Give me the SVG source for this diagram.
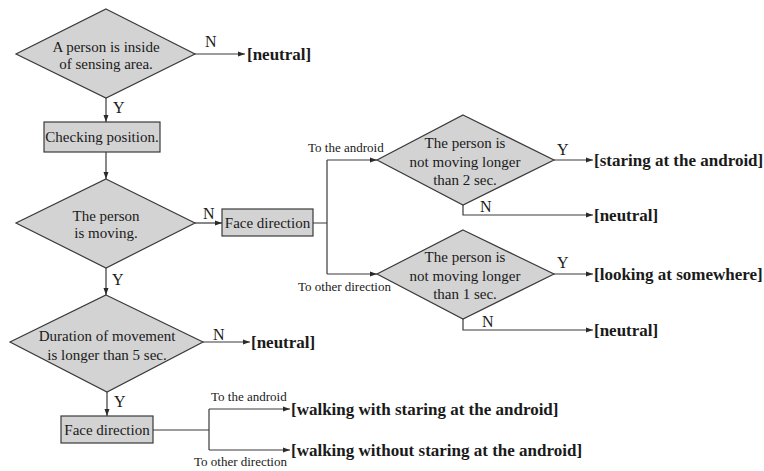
<svg xmlns="http://www.w3.org/2000/svg" width="764" height="471" viewBox="0 0 764 471">
<defs>
<marker id="ah" markerWidth="8" markerHeight="6" refX="7" refY="3" orient="auto" markerUnits="userSpaceOnUse">
<path d="M0,0.5 L7,3 L0,5.5 Z" fill="#2a2a2a"/>
</marker>
<style>
.shape{fill:#d3d3d3;stroke:#3a3a3a;stroke-width:1.2}
.ln{fill:none;stroke:#3a3a3a;stroke-width:1.2}
.arr{fill:none;stroke:#3a3a3a;stroke-width:1.2;marker-end:url(#ah)}
text{font-family:"Liberation Serif","Times New Roman",serif;fill:#1a1a1a}
.t{font-size:15px;text-anchor:middle}
.lb{font-size:16px}
.sm{font-size:13px}
.out{font-size:17px;font-weight:bold}
</style>
</defs>
<rect width="764" height="471" fill="#fff"/>
<g id="connectors">
<path class="arr" d="M195,54 H245"/>
<path class="arr" d="M106,98 V122"/>
<path class="arr" d="M106,152 V179"/>
<path class="arr" d="M195,223 H222"/>
<path class="ln" d="M313,223 H327 M327,160 V274"/>
<path class="arr" d="M327,160 H377"/>
<path class="arr" d="M327,274 H377"/>
<path class="arr" d="M554,160 H593"/>
<path class="arr" d="M463,205 V215 H593"/>
<path class="arr" d="M554,274 H593"/>
<path class="arr" d="M463,319 V330 H593"/>
<path class="arr" d="M106,268 V295"/>
<path class="arr" d="M203,342 H250"/>
<path class="arr" d="M107,392 V416"/>
<path class="ln" d="M153,430 H209 M209,409 V450"/>
<path class="arr" d="M209,409 H290"/>
<path class="arr" d="M209,450 H290"/>
<text class="lb" x="205" y="47">N</text>
<text class="lb" x="113" y="113">Y</text>
<text class="lb" x="203" y="219">N</text>
<text class="lb" x="112" y="285">Y</text>
<text class="lb" x="213" y="340">N</text>
<text class="lb" x="114" y="407">Y</text>
<text class="lb" x="557" y="155">Y</text>
<text class="lb" x="480" y="212">N</text>
<text class="lb" x="557" y="268">Y</text>
<text class="lb" x="482" y="327">N</text>
<text class="sm" x="308" y="152">To the android</text>
<text class="sm" x="298" y="291">To other direction</text>
<text class="sm" x="211" y="401">To the android</text>
<text class="sm" x="194" y="466">To other direction</text>
</g>
<g id="d1">
<polygon class="shape" points="106,9 195,54 106,98 16,54"/>
<text class="t" x="106" y="52">A person is inside</text>
<text class="t" x="106" y="69">of sensing area.</text>
</g>
<g id="o1"><text class="out" x="247" y="60">[neutral]</text></g>
<g id="b1">
<rect class="shape" x="44" y="122" width="116" height="30"/>
<text class="t" x="102" y="142">Checking position.</text>
</g>
<g id="d2">
<polygon class="shape" points="106,179 195,223 106,268 16,223"/>
<text class="t" x="106" y="221">The person</text>
<text class="t" x="106" y="238">is moving.</text>
</g>
<g id="b2">
<rect class="shape" x="222" y="209" width="91" height="27"/>
<text class="t" x="267.5" y="228">Face direction</text>
</g>
<g id="d3">
<polygon class="shape" points="463,115 554,160 463,205 377,160"/>
<text class="t" x="465" y="148">The person is</text>
<text class="t" x="465" y="167">not moving longer</text>
<text class="t" x="465" y="185">than 2 sec.</text>
</g>
<g id="o2"><text class="out" x="594" y="166">[staring at the android]</text></g>
<g id="o3"><text class="out" x="594" y="221">[neutral]</text></g>
<g id="d4">
<polygon class="shape" points="463,230 554,274 463,319 377,274"/>
<text class="t" x="465" y="262">The person is</text>
<text class="t" x="465" y="281">not moving longer</text>
<text class="t" x="465" y="299">than 1 sec.</text>
</g>
<g id="o4"><text class="out" x="594" y="280">[looking at somewhere]</text></g>
<g id="o5"><text class="out" x="594" y="336">[neutral]</text></g>
<g id="d5">
<polygon class="shape" points="106,295 203,342 107,392 10,342"/>
<text class="t" x="107" y="341">Duration of movement</text>
<text class="t" x="107" y="360">is longer than 5 sec.</text>
</g>
<g id="o6"><text class="out" x="251" y="348">[neutral]</text></g>
<g id="b3">
<rect class="shape" x="61" y="416" width="92" height="27"/>
<text class="t" x="107" y="435">Face direction</text>
</g>
<g id="o7"><text class="out" x="291" y="415">[walking with staring at the android]</text></g>
<g id="o8"><text class="out" x="291" y="456">[walking without staring at the android]</text></g>
</svg>
